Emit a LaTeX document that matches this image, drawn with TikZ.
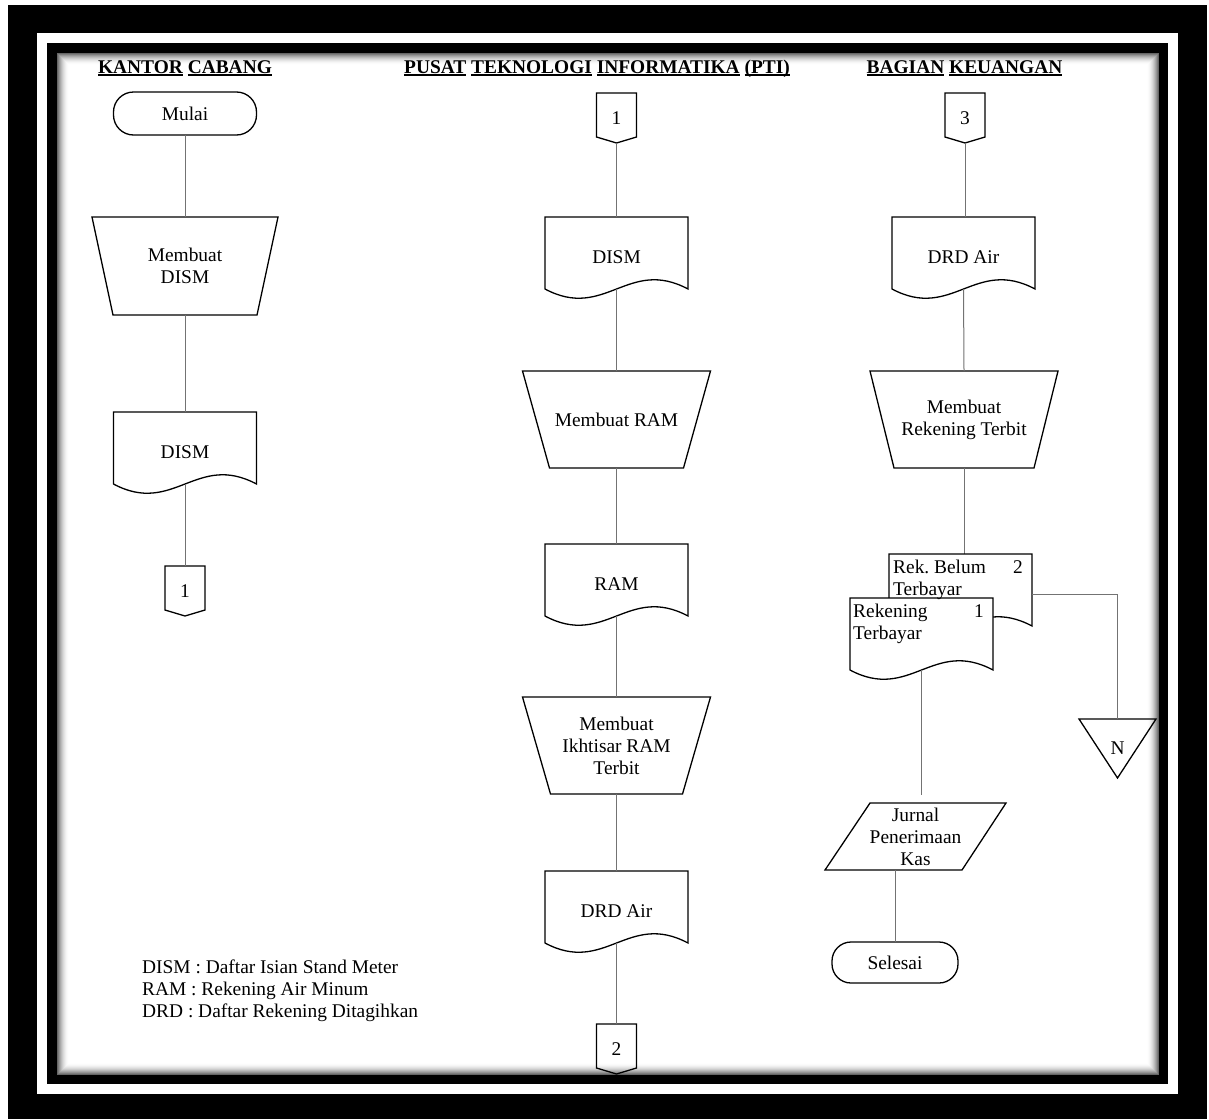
\documentclass[tikz,border=0pt]{standalone}
\usepackage{fontspec}
\setmainfont{Liberation Serif}
\frenchspacing
\newsavebox\hulbox
\newcommand\hul[1]{\sbox\hulbox{#1}\rlap{\rule[-3pt]{\wd\hulbox}{1.6pt}}\usebox\hulbox}
\tikzset{
  conn/.style={draw=black!55, line width=1pt},
  outl/.style={draw=black, line width=1.3pt, line join=miter},
  outlf/.style={outl, fill=white},
  nbase/.style={rectangle, draw=none, outer sep=0pt, inner sep=0pt, align=center,
    font=\fontsize{19.4}{22}\selectfont},
  docbox/.style={nbase, minimum width=143pt, minimum height=80pt},
  term/.style={nbase, draw=black, line width=1.3pt},
  opbox/.style={nbase, minimum width=40pt, minimum height=50pt},
  hdr/.style={font=\fontsize{19.4}{22}\selectfont\bfseries, anchor=base, inner sep=0pt},
  txt/.style={font=\fontsize{19.4}{22}\selectfont, inner sep=0pt},
}
\newcommand\docshape[2][outl]{%
  \draw[#1] ([yshift=8pt]#2.south west) -- (#2.north west) -- (#2.north east)
    -- ([yshift=8pt]#2.south east) .. controls +(-60,-32) and +(60,32) .. ([yshift=8pt]#2.south west) -- cycle;}
\newcommand\manshape[2]{%
  \draw[outl] (#1.north west) -- (#1.north east) -- ([xshift=-#2pt]#1.south east)
    -- ([xshift=#2pt]#1.south west) -- cycle;}
\newcommand\offshape[1]{%
  \draw[outl] (#1.north west) -- (#1.north east) -- ([yshift=6pt]#1.south east)
    -- (#1.south) -- ([yshift=6pt]#1.south west) -- cycle;}
\begin{document}
\begin{tikzpicture}[x=1pt,y=-1pt]
\useasboundingbox (0,0) rectangle (1209,1119);
% frame
\fill[black] (8,5) rectangle (1207,1119);
\fill[white] (37,33) rectangle (1178,1094);
\fill[black] (47,43) rectangle (1168,1084);
\fill[white] (57,53) rectangle (1159,1075);
\foreach \i in {0,...,11}{
  \pgfmathsetmacro\sh{60*(1-\i/12)*(1-\i/12)}
  \draw[black!\sh, line width=1pt] (57.5+\i,53.5+\i) rectangle (1158.5-\i,1074.5-\i);
}
% headers
\node[hdr] (h1) at (185,73) {\hul{KANTOR} \hul{CABANG}};
\node[hdr] (h2) at (597,73) {\hul{PUSAT} \hul{TEKNOLOGI} \hul{INFORMATIKA} \hul{(PTI)}};
\node[hdr] (h3) at (964.5,73) {\hul{BAGIAN} \hul{KEUANGAN}};
% Kantor Cabang
\node[term, minimum width=143pt, minimum height=43pt, rounded corners=20pt] (mulai) at (185,113.5) {Mulai};
\node[nbase, minimum width=186pt, minimum height=98pt] (mdism) at (185,266) {Membuat\\DISM};
\manshape{mdism}{21}
\node[docbox] (kdism) at (185,452) {DISM};
\docshape{kdism}
\node[opbox] (k1) at (185,591) {1};
\offshape{k1}
\draw[conn] (mulai.south) -- (mdism.north);
\draw[conn] (mdism.south) -- (kdism.north);
\draw[conn] ([yshift=8pt]kdism.south) -- (k1.north);
% PTI
\node[opbox] (p1) at (616.5,118) {1};
\offshape{p1}
\node[docbox] (pdism) at (616.5,257) {DISM};
\docshape{pdism}
\node[nbase, minimum width=188pt, minimum height=97pt] (mram) at (616.5,419.5) {Membuat RAM};
\manshape{mram}{27}
\node[docbox] (pram) at (616.5,584) {RAM};
\docshape{pram}
\node[nbase, minimum width=188pt, minimum height=97pt] (mikh) at (616.5,745.5) {Membuat\\Ikhtisar RAM\\Terbit};
\manshape{mikh}{28}
\node[docbox] (pdrd) at (616.5,911) {DRD Air};
\docshape{pdrd}
\node[opbox] (p2) at (616.5,1049) {2};
\offshape{p2}
\draw[conn] (p1.south) -- (pdism.north);
\draw[conn] ([yshift=8pt]pdism.south) -- (mram.north);
\draw[conn] (mram.south) -- (pram.north);
\draw[conn] ([yshift=8pt]pram.south) -- (mikh.north);
\draw[conn] (mikh.south) -- (pdrd.north);
\draw[conn] ([yshift=8pt]pdrd.south) -- (p2.north);
% Bagian Keuangan
\node[opbox] (k3) at (965,118) {3};
\offshape{k3}
\node[docbox] (kdrd) at (963.5,257) {DRD Air};
\docshape{kdrd}
\node[nbase, minimum width=188pt, minimum height=97pt] (mrek) at (964,419.5) {Membuat\\Rekening Terbit};
\manshape{mrek}{24}
\node[docbox] (rb) at (960.5,594) {};
\node[docbox] (rt) at (921.5,638) {};
\node[nbase, minimum width=77pt, minimum height=59pt] (tri) at (1117.5,748.5) {N};
\node[nbase, minimum width=181pt, minimum height=67pt] (jur) at (915.5,836.5) {Jurnal\\Penerimaan\\Kas};
\node[term, minimum width=126pt, minimum height=41pt, rounded corners=19pt] (sel) at (895,962.5) {Selesai};
\draw[conn] (k3.south) -- (k3.south |- kdrd.north);
\draw[conn] ([yshift=8pt]kdrd.south) -- (mrek.north);
\draw[conn] (mrek.south) -- (mrek.south |- rb.north);
\docshape[outlf]{rb}
\docshape[outlf]{rt}
\node[txt, anchor=north west, align=left] (rbt) at ([xshift=4pt,yshift=-6pt]rb.north west) {Rek. Belum\\Terbayar};
\node[txt, anchor=base east] (rb2) at ([xshift=-9pt,yshift=-19pt]rb.north east) {2};
\node[txt, anchor=north west, align=left] (rtt) at ([xshift=3pt,yshift=-6pt]rt.north west) {Rekening\\Terbayar};
\node[txt, anchor=base east] (rt1) at ([xshift=-9pt,yshift=-19.5pt]rt.north east) {1};
\draw[outl] (tri.north west) -- (tri.north east) -- (tri.south) -- cycle;
\draw[conn] (rb.east) -| (tri.north);
\draw[outl] ([xshift=45pt]jur.north west) -- (jur.north east) -- ([xshift=-44pt]jur.south east) -- (jur.south west) -- cycle;
\draw[conn] ([yshift=8pt]rt.south) -- ([yshift=8pt]rt.south |- jur.north);
\draw[conn] (sel.north |- jur.south) -- (sel.north);
% legend
\node[txt, anchor=base west] (l1) at (142,973) {DISM : Daftar Isian Stand Meter};
\node[txt, anchor=base west] (l2) at (142,995) {RAM : Rekening Air Minum};
\node[txt, anchor=base west] (l3) at (142,1017) {DRD : Daftar Rekening Ditagihkan};
\end{tikzpicture}
\end{document}
